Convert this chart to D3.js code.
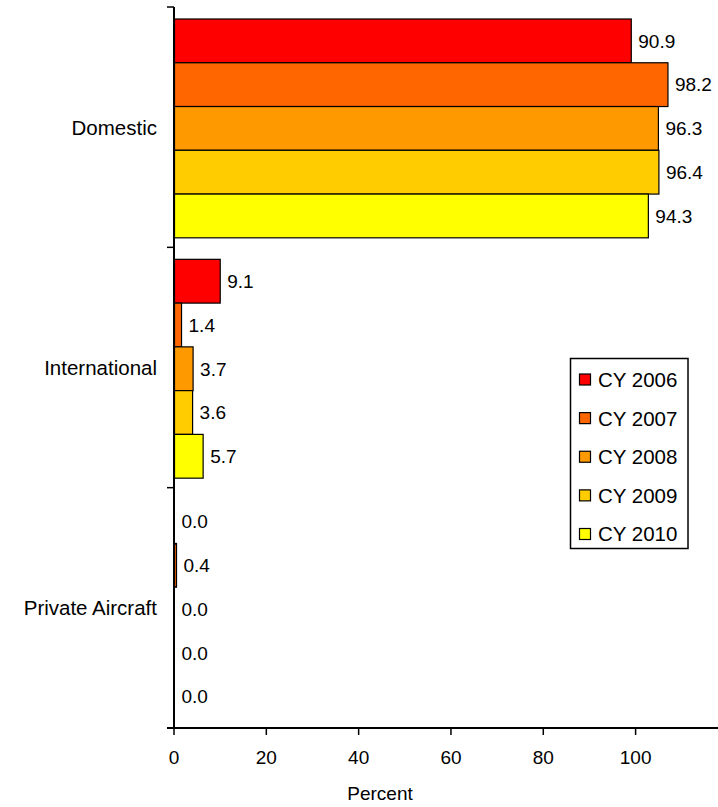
<!DOCTYPE html>
<html>
<head>
<meta charset="utf-8">
<script src="https://cdn.jsdelivr.net/npm/d3@7"></script>
<style>
  html, body { margin: 0; padding: 0; background: #fff; }
  svg { display: block; font-family: "Liberation Sans", Arial, sans-serif; }
</style>
</head>
<body>
<svg id="chart" width="718" height="807"></svg>
<script>
const categories = ["Domestic", "International", "Private Aircraft"];
const seriesNames = ["CY 2006", "CY 2007", "CY 2008", "CY 2009", "CY 2010"];
const seriesColors = ["#FF0000", "#FF6600", "#FF9900", "#FFCC00", "#FFFF00"];
const cy2006 = [90.9, 9.1, 0.0];
const cy2007 = [98.2, 1.4, 0.4];
const cy2008 = [96.3, 3.7, 0.0];
const cy2009 = [96.4, 3.6, 0.0];
const cy2010 = [94.3, 5.7, 0.0];
const xTickValues = [0, 20, 40, 60, 80, 100];
const xAxisTitle = "Percent";

const seriesValues = [cy2006, cy2007, cy2008, cy2009, cy2010];

const svg = d3.select("#chart");
const plotTop = 7, plotBottom = 728, axisX = 174;

// scale used for bars (as drawn in the reference)
const x = d3.scaleLinear().domain([0, 100]).range([axisX + 0.5, axisX + 503]);
// scale used for the axis tick labels
const xAxisScale = d3.scaleLinear().domain([0, 118.5]).range([173.5, 720.5]);

const y0 = d3.scaleBand().domain(categories).range([plotTop, plotBottom]).padding(0);
const y1 = d3.scaleBand().domain(seriesNames).range([12, y0.bandwidth() - 9.5]).padding(0);

// bars
const groups = svg.append("g").selectAll("g")
  .data(categories)
  .join("g")
  .attr("transform", c => `translate(0,${y0(c)})`);

groups.each(function(c, ci) {
  const g = d3.select(this);
  seriesNames.forEach((s, si) => {
    const v = seriesValues[si][ci];
    g.append("rect")
      .attr("x", x(0))
      .attr("y", y1(s))
      .attr("width", Math.max(0, x(v) - x(0)))
      .attr("height", y1.bandwidth())
      .attr("fill", seriesColors[si])
      .attr("stroke", "#000")
      .attr("stroke-width", v > 0 ? 1.2 : 0);
    g.append("text")
      .attr("x", x(v) + 7)
      .attr("y", y1(s) + y1.bandwidth() / 2)
      .attr("dy", "0.36em")
      .attr("font-size", 19)
      .attr("fill", "#000")
      .text(v.toFixed(1));
  });
});

// category labels
svg.append("g").selectAll("text")
  .data(categories)
  .join("text")
  .attr("x", 157)
  .attr("y", c => y0(c) + y0.bandwidth() / 2)
  .attr("dy", "0.36em")
  .attr("text-anchor", "end")
  .attr("font-size", 20.5)
  .attr("fill", "#000")
  .text(c => c);

// y axis line and ticks at category boundaries
svg.append("line")
  .attr("x1", axisX).attr("x2", axisX)
  .attr("y1", plotTop).attr("y2", plotBottom)
  .attr("stroke", "#000").attr("stroke-width", 2);
const boundaries = categories.map(c => y0(c)).concat([plotBottom]);
svg.append("g").selectAll("line")
  .data(boundaries)
  .join("line")
  .attr("x1", 167).attr("x2", axisX)
  .attr("y1", d => d).attr("y2", d => d)
  .attr("stroke", "#000").attr("stroke-width", 1.5);

// x axis
const xAxis = d3.axisBottom(xAxisScale)
  .tickValues(xTickValues)
  .tickSize(7)
  .tickPadding(16)
  .tickFormat(d3.format("d"));
const gx = svg.append("g")
  .attr("transform", `translate(0,${plotBottom})`)
  .call(xAxis);
gx.select(".domain").remove();
gx.selectAll(".tick line").attr("stroke", "#000").attr("stroke-width", 1.5);
gx.selectAll(".tick text").attr("font-size", 19).attr("fill", "#000")
  .attr("font-family", "Liberation Sans, Arial, sans-serif");
svg.append("line")
  .attr("x1", 167).attr("x2", 718)
  .attr("y1", plotBottom).attr("y2", plotBottom)
  .attr("stroke", "#000").attr("stroke-width", 2);

svg.append("text")
  .attr("x", 380)
  .attr("y", 800)
  .attr("text-anchor", "middle")
  .attr("font-size", 19)
  .attr("fill", "#000")
  .text(xAxisTitle);

// legend
const legend = svg.append("g");
legend.append("rect")
  .attr("x", 570.5).attr("y", 358.5)
  .attr("width", 117.5).attr("height", 190)
  .attr("fill", "#fff").attr("stroke", "#000").attr("stroke-width", 1.5);
const legendY = d3.scalePoint().domain(seriesNames).range([379.5, 534]);
seriesNames.forEach((s, i) => {
  legend.append("rect")
    .attr("x", 579.5).attr("y", legendY(s) - 5.5)
    .attr("width", 11).attr("height", 11)
    .attr("fill", seriesColors[i])
    .attr("stroke", "#000").attr("stroke-width", 1.2);
  legend.append("text")
    .attr("x", 598).attr("y", legendY(s))
    .attr("dy", "0.36em")
    .attr("font-size", 20.5)
    .attr("fill", "#000")
    .text(s);
});
</script>
</body>
</html>
